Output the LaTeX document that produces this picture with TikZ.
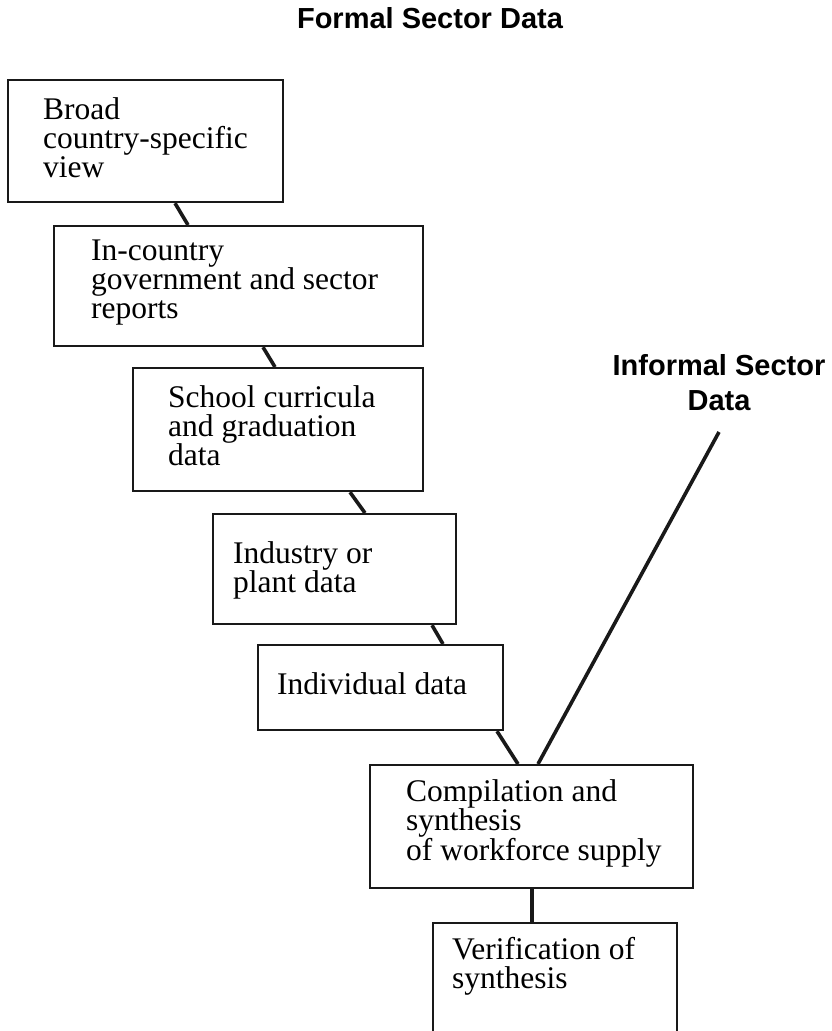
\documentclass[tikz,border=0pt]{standalone}
\usepackage{fontspec}
\setmainfont{Liberation Serif}
\newfontfamily\headsans{Liberation Sans}
\begin{document}
\begin{tikzpicture}[x=1pt,y=-1pt,
  stepbox/.style={draw=black!90,line width=2.2pt,rectangle,inner sep=0pt,anchor=north west},
  boxtext/.style={inner sep=0pt,anchor=base west,align=left,
    font={\fontsize{31.5pt}{28.8pt}\selectfont}},
  heading/.style={inner sep=0pt,align=center,
    font={\headsans\bfseries\fontsize{29pt}{35pt}\selectfont}},
  conn/.style={draw=black!90,line width=3.6pt}]
\useasboundingbox (0,0) rectangle (832,1031);

% headings (base anchor = baseline of the last line)
\node[heading,anchor=base] (formal) at (430,28) {Formal Sector Data};
\node[heading,anchor=base] (informal) at (719,410) {Informal Sector\\Data};
\coordinate (informalend) at (719,432);

% boxes
\node[stepbox,minimum width=275pt,minimum height=122pt] (b1) at (7,79) {};
\node[stepbox,minimum width=369pt,minimum height=120pt] (b2) at (53,225) {};
\node[stepbox,minimum width=290pt,minimum height=123pt] (b3) at (132,367) {};
\node[stepbox,minimum width=243pt,minimum height=110pt] (b4) at (212,513) {};
\node[stepbox,minimum width=245pt,minimum height=85pt] (b5) at (257,644) {};
\node[stepbox,minimum width=323pt,minimum height=123pt] (b6) at (369,764) {};
\node[stepbox,minimum width=244pt,minimum height=125pt] (b7) at (432,922) {};

% box texts, placed by the baseline of their last line
\node[boxtext] (t1) at (43,177) {Broad\\country-specific\\view};
\node[boxtext] (t2) at (91,318) {In-country\\government and sector\\reports};
\node[boxtext] (t3) at (168,465) {School curricula\\and graduation\\data};
\node[boxtext] (t4) at (233,592) {Industry or\\plant data};
\node[boxtext] (t5) at (277,694) {Individual data};
\node[boxtext] (t6) at (406,860) {Compilation and\\synthesis\\of workforce supply};
\node[boxtext] (t7) at (452,988) {Verification of\\synthesis};

% connectors
\draw[conn] ([xshift=168pt]b1.south west) -- ([xshift=135pt]b2.north west);
\draw[conn] ([xshift=210pt]b2.south west) -- ([xshift=143pt]b3.north west);
\draw[conn] ([xshift=218pt]b3.south west) -- ([xshift=153pt]b4.north west);
\draw[conn] ([xshift=220pt]b4.south west) -- ([xshift=186pt]b5.north west);
\draw[conn] ([xshift=240pt]b5.south west) -- ([xshift=149pt]b6.north west);
\draw[conn] (informalend) -- ([xshift=169pt]b6.north west);
\draw[conn] ([xshift=163pt]b6.south west) -- ([xshift=100pt]b7.north west);
\end{tikzpicture}
\end{document}
